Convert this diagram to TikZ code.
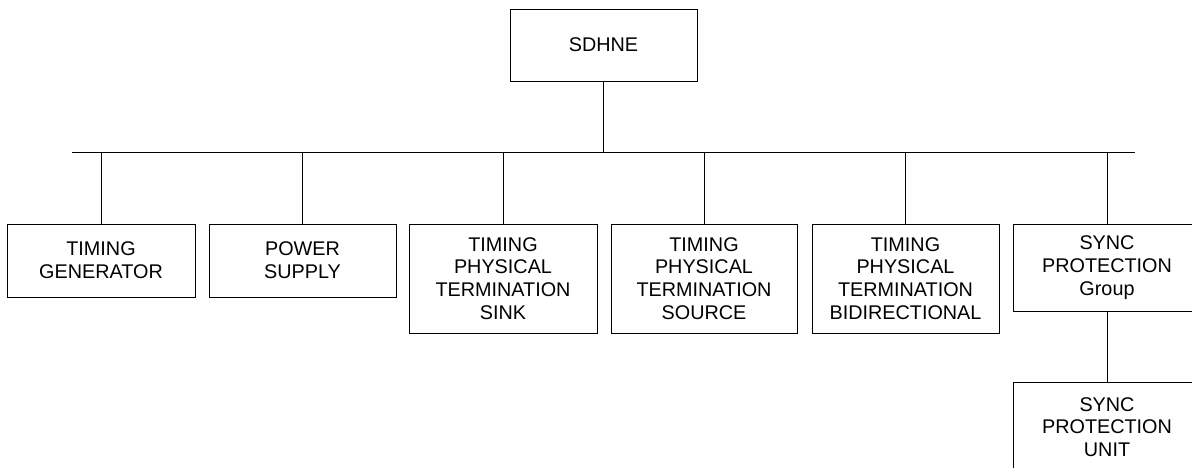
\documentclass[tikz,border=0pt]{standalone}
\usepackage{fontspec}
\setmainfont{Liberation Sans}
\begin{document}
\begin{tikzpicture}[x=1pt,y=-1pt,
  box/.style={draw=black, line width=0.8pt, fill=white, align=center,
    inner sep=0pt, font=\fontsize{19.8}{22.7}\selectfont},
  link/.style={draw=black, line width=0.8pt}]
\useasboundingbox (0,0) rectangle (1192,468);
\clip (0,0) rectangle (1192,468);

% top element
\node[box, minimum width=187, minimum height=72] (sdhne) at (603.5,45) {SDHNE};

% bus line
\coordinate (busL) at (72,152);
\coordinate (busR) at (1135,152);
\draw[link] (busL) -- (busR);
\draw[link] (sdhne.south) -- (sdhne.south |- busL);

% children
\node[box, minimum width=188, minimum height=73] (tg) at (101,260.5) {TIMING\\GENERATOR};
\node[box, minimum width=187, minimum height=73] (ps) at (302.5,260.5) {POWER\\SUPPLY};
\node[box, minimum width=188, minimum height=109] (sink) at (503,278.5) {TIMING\\PHYSICAL\\TERMINATION\\SINK};
\node[box, minimum width=186, minimum height=109] (src) at (704,278.5) {TIMING\\PHYSICAL\\TERMINATION\\SOURCE};
\node[box, minimum width=187, minimum height=109] (bidir) at (905.5,278.5) {TIMING\\PHYSICAL\\TERMINATION\\BIDIRECTIONAL};
\node[box, minimum width=188, minimum height=87] (grp) at (1107,267.5) {SYNC\\PROTECTION\\Group};
\node[box, minimum width=188, minimum height=90] (unit) at (1107,427) {SYNC\\PROTECTION\\UNIT};

\foreach \n in {tg,ps,sink,src,bidir,grp}
  \draw[link] (\n.north) -- (\n.north |- busL);
\draw[link] (grp.south) -- (unit.north);
\end{tikzpicture}
\end{document}
